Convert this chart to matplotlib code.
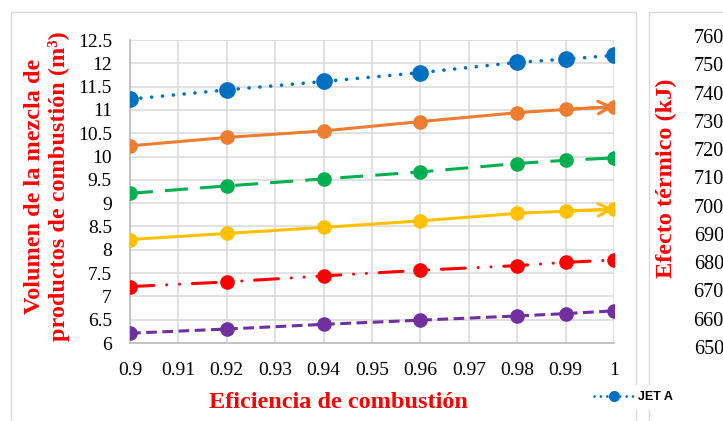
import matplotlib
matplotlib.use("Agg")
import matplotlib.pyplot as plt
from matplotlib.patches import Rectangle
from matplotlib.lines import Line2D

plt.rcParams['font.family'] = ['Liberation Serif', 'DejaVu Serif']

# eficiencia de combustion
eficiencia = [0.9, 0.92, 0.94, 0.96, 0.98, 0.99, 1.0]

# volumen de la mezcla de productos de combustion (m3)
jet_a = [11.23, 11.43, 11.61, 11.80, 12.02, 12.09, 12.17]
serie_naranja = [10.23, 10.41, 10.55, 10.75, 10.94, 11.01, 11.07]
serie_verde = [9.21, 9.37, 9.52, 9.67, 9.85, 9.92, 9.97]
serie_amarilla = [8.22, 8.35, 8.48, 8.62, 8.78, 8.83, 8.87]
serie_roja = [7.21, 7.31, 7.44, 7.56, 7.66, 7.73, 7.78]
serie_morada = [6.21, 6.30, 6.40, 6.49, 6.58, 6.63, 6.69]

xticks = [0.9, 0.91, 0.92, 0.93, 0.94, 0.95, 0.96, 0.97, 0.98, 0.99, 1.0]
xlabels = ['0.9', '0.91', '0.92', '0.93', '0.94', '0.95', '0.96', '0.97', '0.98', '0.99', '1']
yticks = [6, 6.5, 7, 7.5, 8, 8.5, 9, 9.5, 10, 10.5, 11, 11.5, 12, 12.5]
ylabels = ['6', '6.5', '7', '7.5', '8', '8.5', '9', '9.5', '10', '10.5', '11', '11.5', '12', '12.5']
yticks_der = [6500, 6600, 6700, 6800, 6900, 7000, 7100, 7200, 7300, 7400, 7500, 7600]

W, H = 723, 421
fig = plt.figure(figsize=(W / 100, H / 100), dpi=100)

# frames of the two chart areas
fig.patches.append(Rectangle((11 / W, -0.1), (636 - 11) / W, 1.1 - 12 / H, transform=fig.transFigure,
                             fill=False, edgecolor='#d9d9d9', lw=1.0))
fig.patches.append(Rectangle((649 / W, -0.1), 0.5, 1.1 - 12 / H, transform=fig.transFigure,
                             fill=False, edgecolor='#d9d9d9', lw=1.0))

ax = fig.add_axes([130 / W, 1 - 343 / H, (614 - 130) / W, (343 - 40) / H])

lw = 2.2
ms = 9.5
ax.plot(eficiencia, jet_a, color='#0070C0', lw=2.6, linestyle=(0, (0.01, 3.0)),
        dash_capstyle='round', marker='o', ms=11, zorder=3)
ax.plot(eficiencia, serie_naranja, color='#ED7D31', lw=lw, linestyle='-', marker='o', ms=ms, zorder=3)
ax.plot(eficiencia, serie_verde, color='#00B050', lw=lw, linestyle=(0, (7.5, 4)),
        marker='o', ms=ms, zorder=3)
ax.plot(eficiencia, serie_amarilla, color='#FFC000', lw=lw, linestyle='-', marker='o', ms=ms, zorder=3)
ax.plot(eficiencia, serie_roja, color='#FF0000', lw=lw, linestyle=(0, (7.8, 4.2, 0.01, 4.2, 0.01, 4.2)),
        dash_capstyle='round', marker='o', ms=ms, zorder=3)
ax.plot(eficiencia, serie_morada, color='#7030A0', lw=lw, linestyle=(0, (3.5, 1.8)),
        marker='o', ms=ms, zorder=3)

# open arrowheads at the end of the solid series
for serie, col in [(serie_naranja, '#ED7D31'), (serie_amarilla, '#FFC000')]:
    ax.annotate('', xy=(eficiencia[-1], serie[-1]), xytext=(eficiencia[-2], serie[-2]),
                arrowprops=dict(arrowstyle='->,head_length=0.9,head_width=0.45', color=col,
                                lw=lw, shrinkA=0, shrinkB=0), zorder=4)

ax.set_xlim(0.9, 1.0)
ax.set_ylim(6, 12.5)
ax.set_xticks(xticks)
ax.set_xticklabels(xlabels)
ax.set_yticks(yticks)
ax.set_yticklabels(ylabels)
ax.tick_params(axis='both', length=0, labelsize=14)
ax.tick_params(axis='y', pad=13)
ax.tick_params(axis='x', pad=14)
ax.grid(True, color='#d9d9d9', lw=1.1)
ax.set_axisbelow(True)
for s in ['top', 'right']:
    ax.spines[s].set_visible(False)
for s in ['left', 'bottom']:
    ax.spines[s].set_color('#bfbfbf')
    ax.spines[s].set_linewidth(1.3)

fig.text(47 / W, 1 - 186 / H, 'Volumen de la mezcla de\nproductos de combustión (m³)',
         rotation=90, ha='center', va='center', multialignment='center', color='#FF0000',
         fontsize=17.5, fontweight='bold', linespacing=1.15)
fig.text(338 / W, 1 - 402 / H, 'Eficiencia de combustión', ha='center', va='center',
         color='#FF0000', fontsize=17.5, fontweight='bold')

# second chart, cut off at the right edge
ax2 = fig.add_axes([738 / W, 1 - 347 / H, 0.3, (347 - 36) / H])
ax2.set_ylim(6500, 7600)
ax2.set_yticks(yticks_der)
ax2.tick_params(axis='y', length=0, labelsize=14.5, pad=3)
ax2.set_xticks([])
for s in ax2.spines.values():
    s.set_visible(False)
ax2.patch.set_visible(False)
fig.text(666 / W, 1 - 178 / H, 'Efecto térmico (kJ)', rotation=90, ha='center', va='center',
         color='#FF0000', fontsize=17.5, fontweight='bold')

# legend (only the first entry is inside the crop)
h_jet = Line2D([], [], color='#0070C0', lw=2.0, linestyle=(0, (0.01, 2.3)), dash_capstyle='round',
               marker='o', ms=7)
leg = fig.legend(handles=[h_jet], labels=['JET A'], loc='upper left',
                 bbox_to_anchor=(581 / W, 1 - 379 / H), frameon=True, handlelength=3.2,
                 handletextpad=0.35, borderpad=0.5,
                 prop={'family': 'Liberation Sans', 'weight': 'bold', 'size': 9})
leg.get_frame().set_facecolor('white')
leg.get_frame().set_edgecolor('none')
leg.get_frame().set_alpha(1)

fig.savefig('out.png', dpi=100)
